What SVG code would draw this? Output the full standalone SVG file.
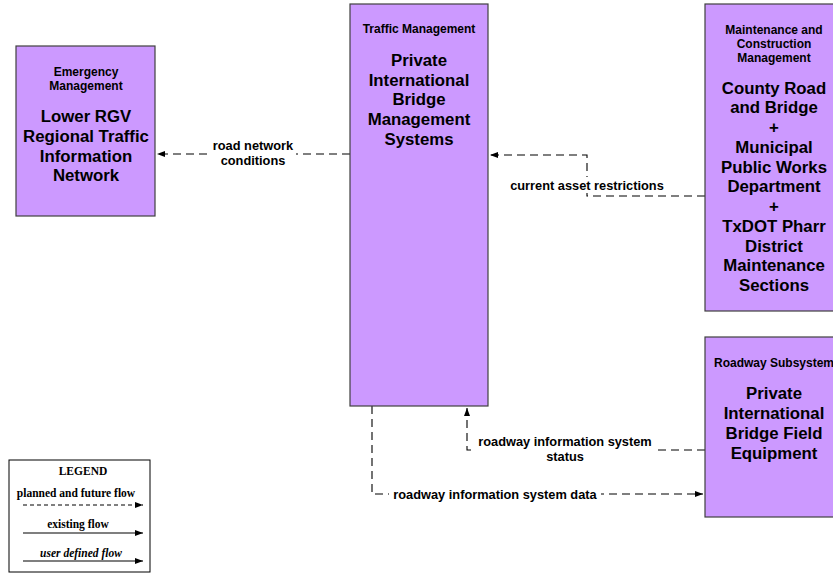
<svg xmlns="http://www.w3.org/2000/svg" width="833" height="573" viewBox="0 0 833 573">
<style>
.box{fill:#CC99FF;stroke:#404040;stroke-width:1.2}
.sub{font-family:"Liberation Sans",Arial,sans-serif;font-weight:bold;font-size:12px;fill:#000;text-anchor:middle}
.big{font-family:"Liberation Sans",Arial,sans-serif;font-weight:bold;font-size:16.8px;fill:#000;text-anchor:middle}
.lbl{font-family:"Liberation Sans",Arial,sans-serif;font-weight:bold;font-size:12.8px;fill:#000;text-anchor:middle}
.flow{fill:none;stroke:#000;stroke-width:1.1;stroke-dasharray:8,5}
.solid{fill:none;stroke:#000;stroke-width:1.1}
.leg{font-family:"Liberation Serif","Times New Roman",serif;font-weight:bold;font-size:11.5px;fill:#000;text-anchor:middle}
</style>
<defs>
<marker id="ah" markerWidth="8" markerHeight="6" refX="8" refY="3" orient="auto" markerUnits="userSpaceOnUse">
<path d="M0,0 L8,3 L0,6 Z" fill="#000"/>
</marker>
</defs>
<rect width="833" height="573" fill="#fff"/>

<g id="connectors">
<path class="flow" d="M350,154 H157" marker-end="url(#ah)"/>
<rect x="210" y="138" width="86" height="30" fill="#fff"/>
<text class="lbl" x="253" y="150">road network</text>
<text class="lbl" x="253" y="165">conditions</text>

<path class="flow" d="M705,196 H587 V155 H490" marker-end="url(#ah)"/>
<rect x="507" y="177" width="160" height="16" fill="#fff"/>
<text class="lbl" x="587" y="190">current asset restrictions</text>

<path class="flow" d="M705,450 H467 V408" marker-end="url(#ah)"/>
<rect x="474" y="434" width="182" height="30" fill="#fff"/>
<text class="lbl" x="565" y="446">roadway information system</text>
<text class="lbl" x="565" y="461">status</text>

<path class="flow" d="M372,406 V494 H703" marker-end="url(#ah)"/>
<rect x="389" y="486" width="212" height="16" fill="#fff"/>
<text class="lbl" x="495" y="499">roadway information system data</text>
</g>

<g id="emergency">
<rect class="box" x="16" y="46" width="139" height="170"/>
<text class="sub" x="86" y="76">Emergency</text>
<text class="sub" x="86" y="90">Management</text>
<text class="big" x="86" y="122">Lower RGV</text>
<text class="big" x="86" y="142">Regional Traffic</text>
<text class="big" x="86" y="162">Information</text>
<text class="big" x="86" y="181">Network</text>
</g>

<g id="traffic">
<rect class="box" x="350" y="4" width="138" height="402"/>
<text class="sub" x="419" y="33">Traffic Management</text>
<text class="big" x="419" y="66">Private</text>
<text class="big" x="419" y="86">International</text>
<text class="big" x="419" y="105">Bridge</text>
<text class="big" x="419" y="125">Management</text>
<text class="big" x="419" y="145">Systems</text>
</g>

<g id="maintenance">
<rect class="box" x="705" y="4" width="138" height="307"/>
<text class="sub" x="774" y="34">Maintenance and</text>
<text class="sub" x="774" y="48">Construction</text>
<text class="sub" x="774" y="62">Management</text>
<text class="big" x="774" y="94">County Road</text>
<text class="big" x="774" y="113">and Bridge</text>
<text class="big" x="774" y="133">+</text>
<text class="big" x="774" y="153">Municipal</text>
<text class="big" x="774" y="173">Public Works</text>
<text class="big" x="774" y="192">Department</text>
<text class="big" x="774" y="212">+</text>
<text class="big" x="774" y="232">TxDOT Pharr</text>
<text class="big" x="774" y="252">District</text>
<text class="big" x="774" y="271">Maintenance</text>
<text class="big" x="774" y="291">Sections</text>
</g>

<g id="roadway">
<rect class="box" x="705" y="337" width="138" height="180"/>
<text class="sub" x="774" y="367">Roadway Subsystem</text>
<text class="big" x="774" y="399">Private</text>
<text class="big" x="774" y="419">International</text>
<text class="big" x="774" y="439">Bridge Field</text>
<text class="big" x="774" y="459">Equipment</text>
</g>

<g id="legend">
<rect x="9" y="460" width="141" height="112" fill="#fff" stroke="#000" stroke-width="1"/>
<text class="leg" x="83" y="475">LEGEND</text>
<text class="leg" x="76" y="497">planned and future flow</text>
<path d="M23,505 H143" fill="none" stroke="#000" stroke-width="1" stroke-dasharray="4,3" marker-end="url(#ah)"/>
<text class="leg" x="78" y="528">existing flow</text>
<path class="solid" d="M23,533 H143" marker-end="url(#ah)"/>
<text class="leg" x="81" y="557" font-style="italic">user defined flow</text>
<path class="solid" d="M23,561 H143" marker-end="url(#ah)"/>
</g>
</svg>
